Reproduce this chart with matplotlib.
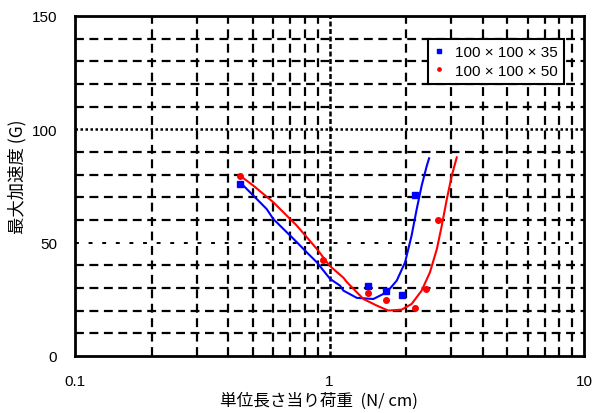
import numpy as np
import matplotlib
matplotlib.use("Agg")
from matplotlib import pyplot as plt

plt.rcParams['font.family'] = ['Liberation Sans', 'Noto Sans CJK JP', 'DejaVu Sans']

# measured points
pts_x = [0.445, 1.416, 1.667, 1.93, 2.17]
pts35_y = [75.9, 31.0, 28.8, 27.0, 71.0]
red_x = [0.445, 0.938, 1.416, 1.667, 2.17, 2.39, 2.66]
red_y = [79.3, 42.5, 27.8, 24.8, 21.0, 29.5, 59.8]

# fitted curves
fit35_x = [0.445, 0.502, 0.566, 0.601, 0.743, 0.813, 0.891, 1.004, 1.099, 1.133,
           1.279, 1.486, 1.678, 1.836, 1.98, 2.10, 2.20, 2.30, 2.41, 2.46]
fit35_y = [76.6, 70.7, 64.8, 60.4, 50.2, 45.7, 41.3, 34.0, 31.0, 28.8,
           25.6, 25.1, 28.1, 33.2, 41.3, 53.1, 64.8, 75.1, 83.9, 87.2]
fit50_x = [0.445, 0.502, 0.601, 0.743, 0.891, 1.0, 1.133, 1.17, 1.358, 1.532,
           1.70, 1.92, 2.10, 2.30, 2.48, 2.64, 2.76, 2.89, 3.02, 3.16]
fit50_y = [79.5, 75.1, 67.8, 57.5, 47.2, 39.8, 34.5, 32.5, 25.1, 22.2,
           20.0, 20.4, 22.9, 28.8, 36.9, 47.2, 57.5, 69.3, 79.5, 87.6]

fig = plt.figure(figsize=(5.96, 4.14), dpi=100)
ax = fig.add_axes([0.126, 0.138, 0.854, 0.821])

ax.set_xscale('log')
ax.set_xlim(0.1, 10)
ax.set_ylim(0, 150)

# grid
for v in [0.2, 0.3, 0.4, 0.5, 0.6, 0.7, 0.8, 0.9, 2, 3, 4, 5, 6, 7, 8, 9]:
    ax.axvline(v, color='black', lw=1.6, ls=(0, (4, 2.5)), zorder=1)
ax.axvline(1, color='black', lw=1.8, ls=(0, (2, 1)), zorder=1)
for v in range(10, 150, 10):
    if v == 100:
        ax.axhline(v, color='black', lw=1.8, ls=(0, (1, 1)), zorder=1)
    elif v == 50:
        ax.axhline(v, color='black', lw=1.4, ls=(0, (2, 5)), zorder=1)
    else:
        ax.axhline(v, color='black', lw=1.6, ls=(0, (4, 2.5)), zorder=1)

ax.plot(fit35_x, fit35_y, color='blue', lw=1.5, zorder=3)
ax.plot(fit50_x, fit50_y, color='red', lw=1.5, zorder=3)
ax.plot(pts_x, pts35_y, ls='none', marker='s', ms=4, color='blue', zorder=4,
        label='100 × 100 × 35')
ax.plot(red_x, red_y, ls='none', marker='o', ms=4, color='red', zorder=4,
        label='100 × 100 × 50')

ax.set_xticks([0.1, 1, 10])
ax.set_xticklabels(['0.1', '1', '10'])
ax.set_yticks([0, 50, 100, 150])
ax.xaxis.set_minor_formatter(matplotlib.ticker.NullFormatter())
ax.tick_params(axis='x', which='both', length=0, pad=13, labelsize=11)
ax.tick_params(axis='y', which='both', length=0, pad=13, labelsize=11)
for s in ax.spines.values():
    s.set_linewidth(2)
    s.set_zorder(5)

leg = ax.legend(loc='upper right', bbox_to_anchor=(0.976, 0.955), fontsize=11,
                frameon=True, fancybox=False, edgecolor='black', framealpha=1,
                handlelength=0.6, handletextpad=0.8, borderpad=0.4,
                labelspacing=0.3, markerscale=0.6)
leg.get_frame().set_linewidth(1.5)

ax.set_xlabel('単位長さ当り荷重  (N/ cm)', fontsize=12,
              family=['Noto Sans CJK JP', 'DejaVu Sans'])
ax.set_ylabel('最大加速度 (G)', fontsize=12.5,
              family=['Noto Sans CJK JP', 'DejaVu Sans'])
ax.xaxis.set_label_coords(0.48, -0.106)
ax.yaxis.set_label_coords(-0.095, 0.53)

fig.savefig('out.png', dpi=100)
